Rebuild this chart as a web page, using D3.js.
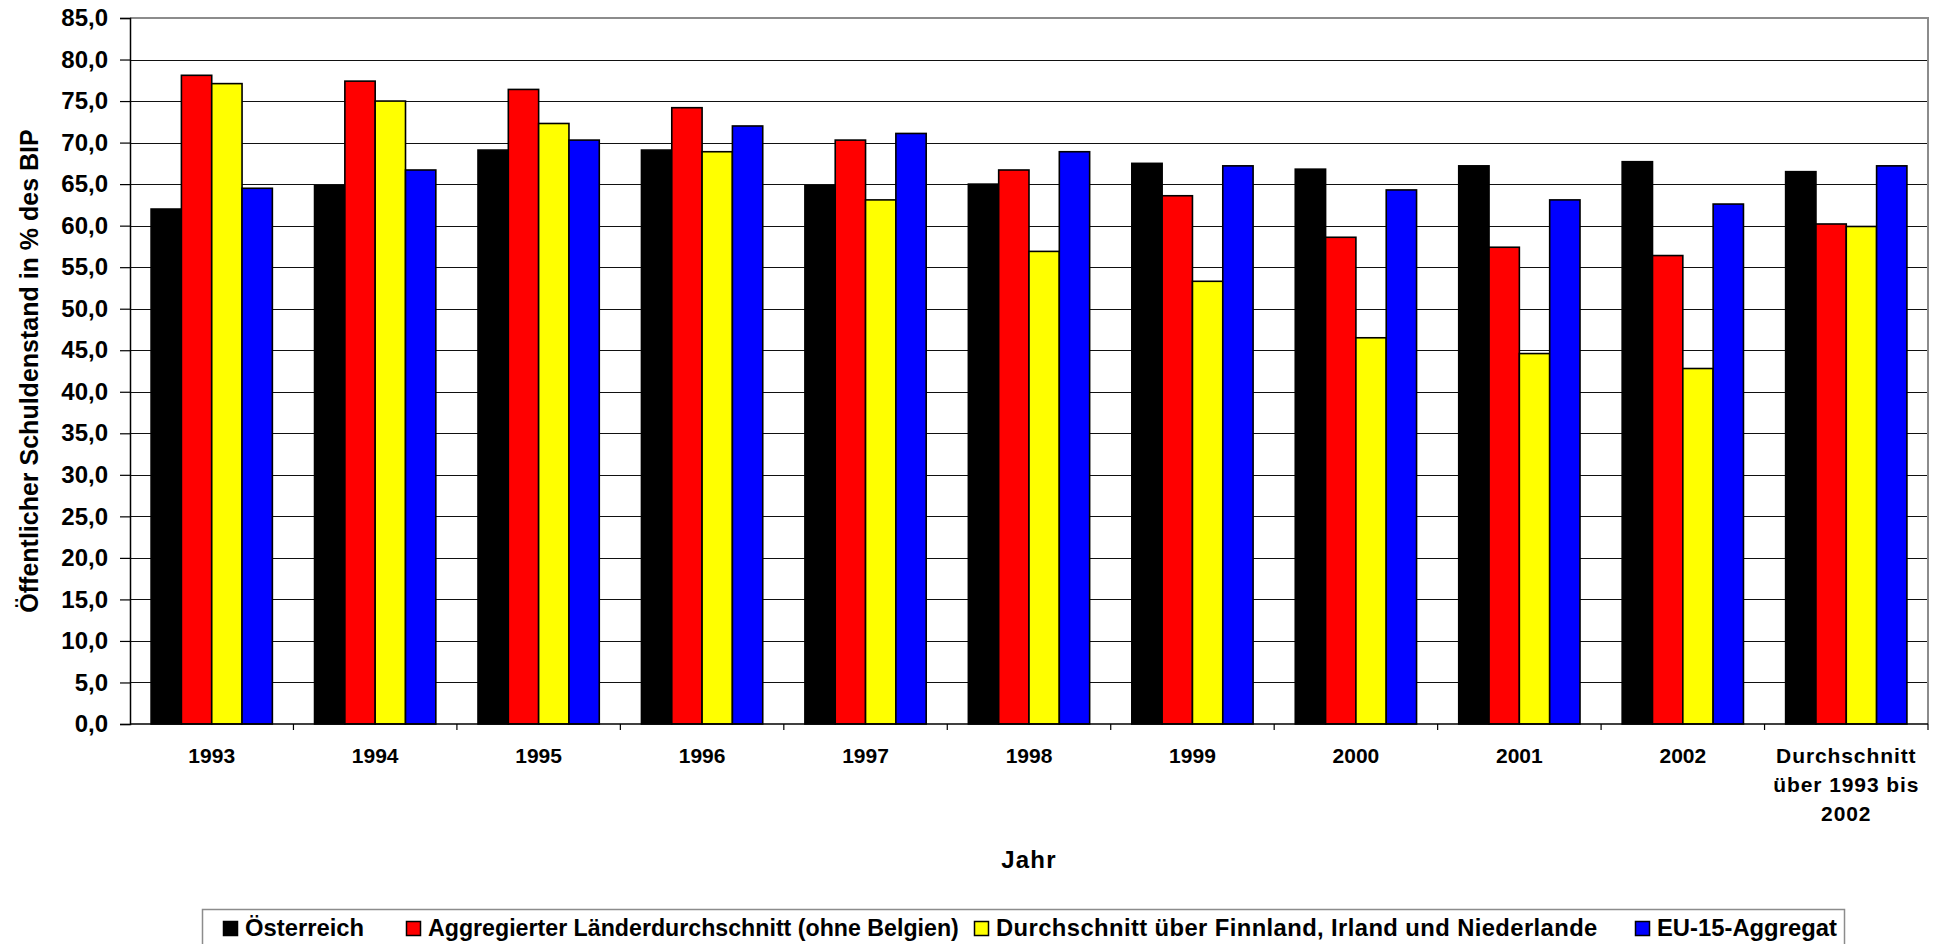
<!DOCTYPE html>
<html>
<head>
<meta charset="utf-8">
<script src="https://cdn.jsdelivr.net/npm/d3@7"></script>
<style>
  html, body { margin: 0; padding: 0; background: #fff; }
  svg { display: block; font-family: "Liberation Sans", Arial, sans-serif; font-weight: bold; }
</style>
</head>
<body>
<svg id="chart" width="1939" height="944"></svg>
<script>
const categories = ["1993", "1994", "1995", "1996", "1997", "1998", "1999", "2000", "2001", "2002", "Durchschnitt\nüber 1993 bis\n2002"];
const seriesNames = ["Österreich", "Aggregierter Länderdurchschnitt (ohne Belgien)", "Durchschnitt über Finnland, Irland und Niederlande", "EU-15-Aggregat"];
const oesterreich = [62.0, 64.8, 69.1, 69.1, 64.8, 65.0, 67.5, 66.8, 67.2, 67.7, 66.5];
const laenderDurchschnitt = [78.1, 77.4, 76.4, 74.2, 70.3, 66.7, 63.6, 58.6, 57.4, 56.4, 60.2];
const finIrlNl = [77.1, 75.0, 72.3, 68.9, 63.1, 56.9, 53.3, 46.5, 44.6, 42.8, 59.9];
const eu15 = [64.5, 66.7, 70.3, 72.0, 71.1, 68.9, 67.2, 64.3, 63.1, 62.6, 67.2];
const seriesValues = [oesterreich, laenderDurchschnitt, finIrlNl, eu15];
const seriesColors = ["#000000", "#ff0000", "#ffff00", "#0000ff"];
const yTicks = d3.range(0, 85.1, 5);
const yTitle = "Öffentlicher Schuldenstand in % des BIP";
const xTitle = "Jahr";

const svg = d3.select("#chart");
const plot = { left: 130, right: 1928, top: 18, bottom: 724 };

const x0 = d3.scaleBand().domain(categories).range([plot.left, plot.right]).paddingInner(0).paddingOuter(0);
const bw = x0.bandwidth();
const x1 = d3.scaleBand().domain(d3.range(seriesNames.length)).range([bw * 0.129, bw * 0.871]).padding(0);
const y = d3.scaleLinear().domain([0, 85]).range([plot.bottom, plot.top]);

const de = d3.formatLocale({ decimal: ",", thousands: ".", grouping: [3], currency: ["", " €"] });
const fmt = de.format(".1f");

// gridlines
svg.append("g").selectAll("line").data(yTicks.filter(t => t > 0 && t < 85)).join("line")
  .attr("x1", plot.left).attr("x2", plot.right)
  .attr("y1", d => Math.round(y(d)) + 0.5).attr("y2", d => Math.round(y(d)) + 0.5)
  .attr("stroke", "#111").attr("stroke-width", 1.2);

// plot border top/right gray
svg.append("path")
  .attr("d", `M${plot.left},${y(85)}H${plot.right}V${plot.bottom}`)
  .attr("fill", "none").attr("stroke", "#8c8c8c").attr("stroke-width", 2);

// bars
const groups = svg.append("g").selectAll("g").data(categories).join("g")
  .attr("transform", d => `translate(${x0(d)},0)`);
groups.selectAll("rect").data((d, i) => seriesValues.map((s, k) => ({ k, v: s[i] }))).join("rect")
  .attr("x", d => x1(d.k))
  .attr("width", x1.bandwidth())
  .attr("y", d => y(d.v))
  .attr("height", d => y(0) - y(d.v))
  .attr("fill", d => seriesColors[d.k])
  .attr("stroke", "#000").attr("stroke-width", 1.6);

// y axis
const yAxis = d3.axisLeft(y).tickValues(yTicks).tickFormat(fmt).tickSize(10).tickPadding(12);
const gy = svg.append("g").attr("transform", `translate(${plot.left},0)`).call(yAxis);
gy.select(".domain").attr("stroke", "#000").attr("stroke-width", 1.5);
gy.selectAll(".tick line").attr("stroke", "#000").attr("stroke-width", 1.2);
gy.selectAll(".tick text").attr("font-size", 24).attr("font-weight", "bold")
  .attr("font-family", "'Liberation Sans', Arial, sans-serif").attr("fill", "#000");

// x axis
const gx = svg.append("g").attr("transform", `translate(0,${plot.bottom})`);
gx.append("line").attr("x1", plot.left).attr("x2", plot.right).attr("y1", 0).attr("y2", 0)
  .attr("stroke", "#000").attr("stroke-width", 1.5);
gx.selectAll("line.tk").data(categories).join("line").attr("class", "tk")
  .attr("x1", d => x0(d) + bw).attr("x2", d => x0(d) + bw).attr("y1", 0).attr("y2", 6)
  .attr("stroke", "#000").attr("stroke-width", 1.2);
const xl = gx.selectAll("text").data(categories).join("text")
  .attr("x", d => x0(d) + bw / 2)
  .attr("text-anchor", "middle")
  .attr("font-size", 21)
  .attr("fill", "#000");
xl.each(function (d) {
  const lines = d.split("\n");
  const t = d3.select(this);
  if (lines.length > 1) t.attr("letter-spacing", 0.9);
  lines.forEach((ln, i) => {
    t.append("tspan").attr("x", x0(d) + bw / 2).attr("y", 39 + i * 29).text(ln);
  });
});

// axis titles
svg.append("text")
  .attr("transform", `translate(38,${(plot.top + plot.bottom) / 2}) rotate(-90)`)
  .attr("text-anchor", "middle").attr("font-size", 25).attr("fill", "#000")
  .text(yTitle);
svg.append("text")
  .attr("x", (plot.left + plot.right) / 2).attr("y", 868)
  .attr("text-anchor", "middle").attr("font-size", 24).attr("letter-spacing", 1.2).attr("fill", "#000")
  .text(xTitle);

// legend
const legendItemX = [223, 406, 974, 1635];
const sq = 15, sqGap = 7;
const lg = svg.append("g");
lg.append("rect").attr("x", 202.5).attr("y", 909.5).attr("width", 1642).attr("height", 60)
  .attr("fill", "#fff").attr("stroke", "#8c8c8c").attr("stroke-width", 1.5);
const li = lg.selectAll("g.item").data(seriesNames).join("g").attr("class", "item")
  .attr("transform", (d, i) => `translate(${legendItemX[i]},921)`);
li.append("rect").attr("x", 0.5).attr("y", 0.5).attr("width", sq - 1).attr("height", sq - 1)
  .attr("fill", (d, i) => seriesColors[i]).attr("stroke", "#000").attr("stroke-width", 1.5);
li.append("text").attr("x", sq + sqGap).attr("y", 15)
  .attr("font-size", (d, i) => i === 1 ? 23.2 : 23.8)
  .attr("letter-spacing", (d, i) => i === 2 ? 0.4 : 0)
  .attr("fill", "#000").text(d => d);
</script>
</body>
</html>
